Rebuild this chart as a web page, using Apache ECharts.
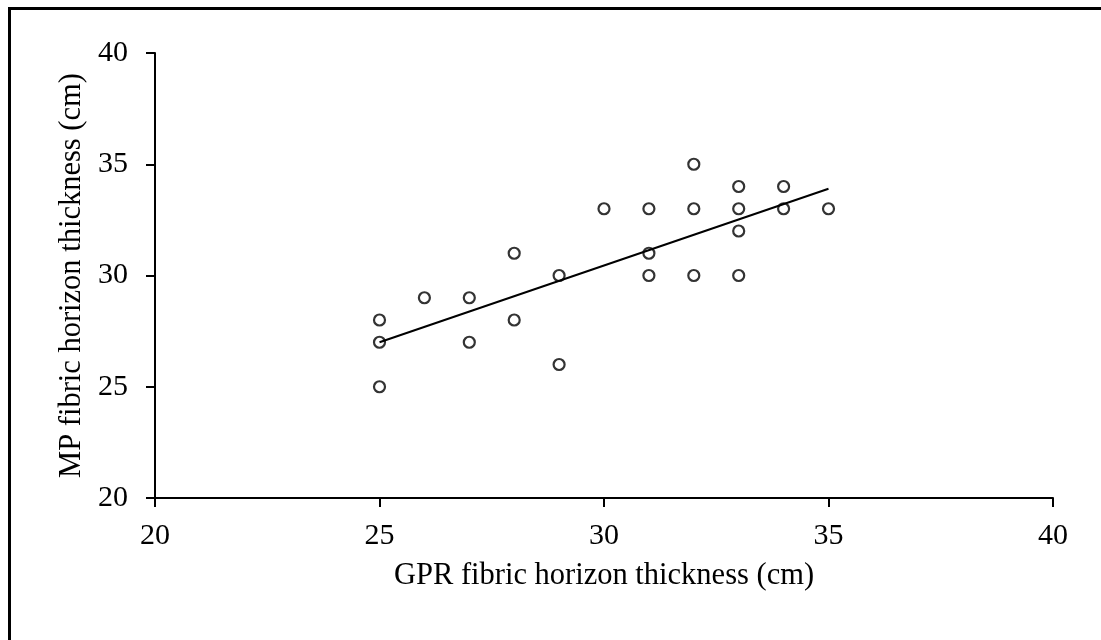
<!DOCTYPE html>
<html>
<head>
<meta charset="utf-8">
<script src="https://cdn.jsdelivr.net/npm/echarts@6/dist/echarts.min.js"></script>
<style>
  html, body { margin: 0; padding: 0; background: #fff; }
  #chart { width: 1101px; height: 640px; }
</style>
</head>
<body>
<div id="chart"></div>
<script>
// GPR vs MP fibric horizon thickness (cm)
const gprX = [25, 25, 25, 26, 27, 27, 28, 28, 29, 29, 30, 31, 31, 31, 32, 32, 32, 33, 33, 33, 33, 34, 34, 35];
const mpY  = [28, 27, 25, 29, 29, 27, 31, 28, 30, 26, 33, 33, 31, 30, 35, 33, 30, 34, 33, 32, 30, 34, 33, 33];
// fitted line end points
const fitX = [25, 35];
const fitY = [27.0, 33.9];
const axisTicks = [20, 25, 30, 35, 40];

const font = '"Liberation Serif", "DejaVu Serif", serif';

const myChart = echarts.init(document.getElementById('chart'));
myChart.setOption({
  backgroundColor: '#fff',
  animation: false,
  grid: {
    left: 155,
    right: 48,
    top: 53,
    bottom: 142,
  },
  graphic: [
    {
      type: 'line',
      shape: { x1: 8, y1: 8.5, x2: 1101, y2: 8.5 },
      style: { stroke: '#000', lineWidth: 3 },
    },
    {
      type: 'line',
      shape: { x1: 9.5, y1: 7, x2: 9.5, y2: 640 },
      style: { stroke: '#000', lineWidth: 3 },
    },
  ],
  xAxis: {
    type: 'value',
    min: axisTicks[0],
    max: axisTicks[axisTicks.length - 1],
    interval: 5,
    name: 'GPR fibric horizon thickness (cm)',
    nameLocation: 'middle',
    nameGap: 62,
    nameTextStyle: { color: '#000', fontSize: 30.5, fontFamily: font },
    axisLine: { lineStyle: { color: '#000', width: 2 } },
    axisTick: { show: true, inside: false, length: 9, lineStyle: { color: '#000', width: 2 } },
    axisLabel: { color: '#000', fontSize: 30, fontFamily: font, margin: 23 },
    splitLine: { show: false },
  },
  yAxis: {
    type: 'value',
    min: axisTicks[0],
    max: axisTicks[axisTicks.length - 1],
    interval: 5,
    name: 'MP fibric horizon thickness (cm)',
    nameLocation: 'middle',
    nameGap: 66,
    nameTextStyle: { color: '#000', fontSize: 30.5, fontFamily: font },
    axisLine: { show: true, lineStyle: { color: '#000', width: 2 } },
    axisTick: { show: true, inside: false, length: 9, lineStyle: { color: '#000', width: 2 } },
    axisLabel: { color: '#000', fontSize: 30, fontFamily: font, margin: 27 },
    splitLine: { show: false },
  },
  series: [
    {
      type: 'line',
      data: fitX.map((x, i) => [x, fitY[i]]),
      symbol: 'none',
      lineStyle: { color: '#000', width: 2 },
      z: 1,
    },
    {
      type: 'scatter',
      data: gprX.map((x, i) => [x, mpY[i]]),
      symbol: 'circle',
      symbolSize: 11,
      itemStyle: { color: 'rgba(255,255,255,0)', borderColor: '#000', borderWidth: 2.2 },
      z: 2,
    },
  ],
});
</script>
</body>
</html>
